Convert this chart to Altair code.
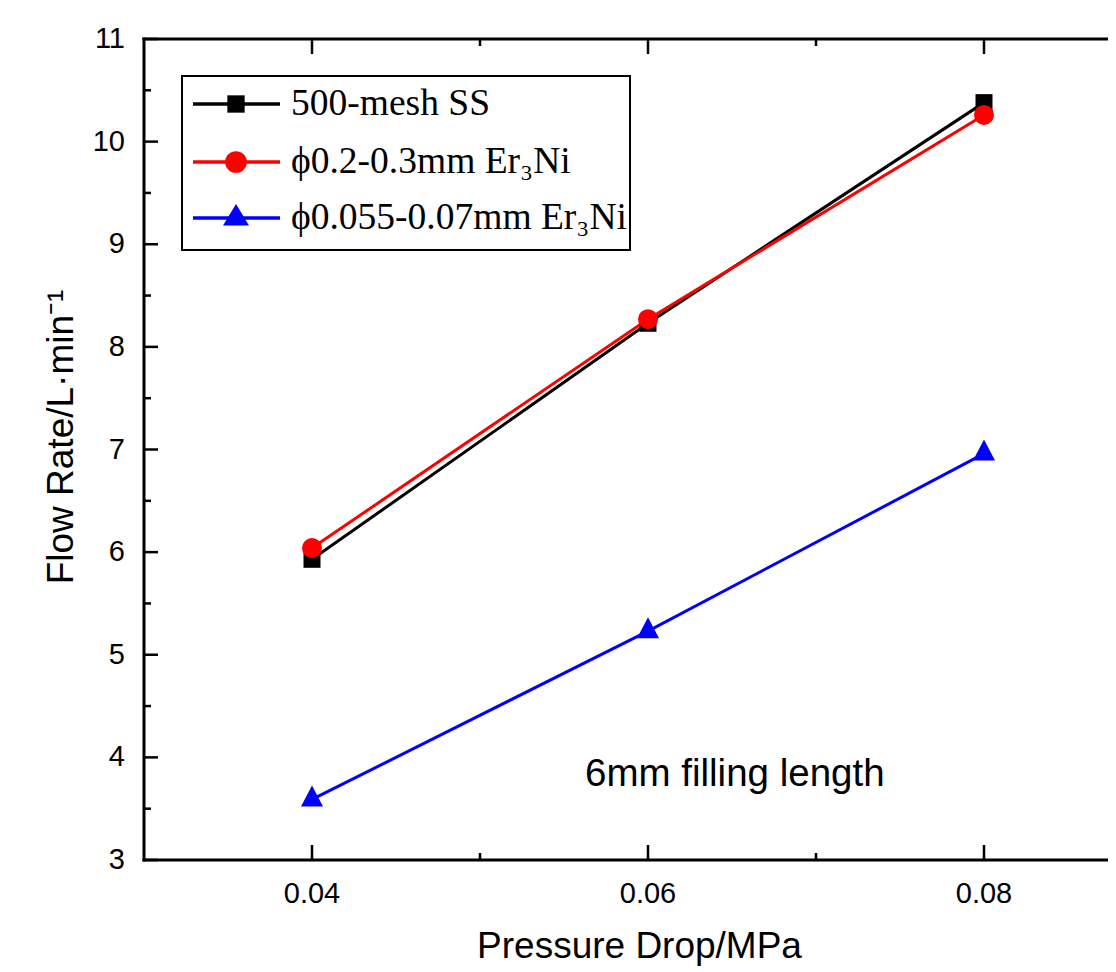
import altair as alt
import pandas as pd

# ---------------- data ----------------
pressure = [0.04, 0.06, 0.08]
series_names = ["500-mesh SS", "ϕ0.2-0.3mm Er₃Ni", "ϕ0.055-0.07mm Er₃Ni"]
flow_ss = [5.93, 8.23, 10.38]
flow_er3ni_coarse = [6.04, 8.27, 10.26]
flow_er3ni_fine = [3.59, 5.23, 6.96]

x_major_ticks = [0.04, 0.06, 0.08]
x_tick_labels = ["0.04", "0.06", "0.08"]
x_minor_ticks = [0.05, 0.07]
y_major_ticks = [3, 4, 5, 6, 7, 8, 9, 10, 11]
y_tick_labels = ["3", "4", "5", "6", "7", "8", "9", "10", "11"]
y_minor_ticks = [3.5, 4.5, 5.5, 6.5, 7.5, 8.5, 9.5, 10.5]

x_title = "Pressure Drop/MPa"
y_title = "Flow Rate/L·min⁻¹"

note_text = ["6mm filling length"]
note_x = [0.05625]
note_y = [3.72]

# ---------------- styles / layout ----------------
W, H = 963, 821
x_domain = [0.03, 0.0873214]
y_domain = [3, 11]
series_colors = ["#000000", "#ff0000", "#0000ff"]
marker_shapes = ["square", "circle", "M0,-0.7L0.55,0.35L-0.55,0.35Z"]
marker_sizes = [289, 400, 1600]
axis_font = "Liberation Sans"

# legend (pixel layout inside the plot area)
legend_box = (38, 37, 486, 211)
legend_row_y = [65, 123, 179]
legend_line_x = (49, 136)
legend_marker_x = 92
legend_label_x = 147
legend_marker_shapes = ["square", "circle", "M0,-0.322L0.299,0.175L-0.299,0.175Z"]
legend_marker_sizes = [300, 470, 7569]

xs = alt.Scale(domain=x_domain, nice=False, zero=False)
ys = alt.Scale(domain=y_domain, nice=False, zero=False)
color_scale = alt.Scale(domain=series_names, range=series_colors)

rows = []
for name, vals in zip(series_names, [flow_ss, flow_er3ni_coarse, flow_er3ni_fine]):
    for p, v in zip(pressure, vals):
        rows.append({"series": name, "pressure": p, "flow": v})
df = pd.DataFrame(rows)
one = pd.DataFrame({"k": [0]})

# ---------------- axes (frame, ticks, labels, titles) ----------------
frame_layers = [
    alt.Chart(one).mark_rule(color="black", strokeWidth=3).encode(
        x=alt.value(0), y=alt.value(-1.5), y2=alt.value(H + 1.5)),
    alt.Chart(one).mark_rule(color="black", strokeWidth=3).encode(
        x=alt.value(-1.5), x2=alt.value(W + 1), y=alt.value(H)),
    alt.Chart(one).mark_rule(color="black", strokeWidth=3).encode(
        x=alt.value(-1.5), x2=alt.value(W + 1), y=alt.value(0)),
]


def xtick_layer(vals, y0, y1):
    return alt.Chart(pd.DataFrame({"v": vals})).mark_rule(color="black", strokeWidth=2.5).encode(
        x=alt.X("v:Q", scale=xs, axis=None), y=alt.value(y0), y2=alt.value(y1))


def ytick_layer(vals, length):
    return alt.Chart(pd.DataFrame({"v": vals})).mark_rule(color="black", strokeWidth=2.5).encode(
        y=alt.Y("v:Q", scale=ys, axis=None), x=alt.value(0), x2=alt.value(length))


tick_layers = [
    xtick_layer(x_major_ticks, H, H - 15),
    xtick_layer(x_minor_ticks, H, H - 7),
    xtick_layer(x_major_ticks, 0, 15),
    xtick_layer(x_minor_ticks, 0, 7),
    ytick_layer(y_major_ticks, 14),
    ytick_layer(y_minor_ticks, 7),
]

label_layers = [
    alt.Chart(pd.DataFrame({"v": x_major_ticks, "t": x_tick_labels})).mark_text(
        font=axis_font, fontSize=29, align="center", baseline="top", color="black"
    ).encode(x=alt.X("v:Q", scale=xs, axis=None), y=alt.value(H + 20), text="t:N"),
    alt.Chart(pd.DataFrame({"v": y_major_ticks, "t": y_tick_labels})).mark_text(
        font=axis_font, fontSize=29, align="right", baseline="middle", color="black"
    ).encode(y=alt.Y("v:Q", scale=ys, axis=None), x=alt.value(-19), text="t:N"),
    alt.Chart(pd.DataFrame({"t": [x_title]})).mark_text(
        font=axis_font, fontSize=37, align="center", baseline="alphabetic", color="black"
    ).encode(x=alt.value(495.5), y=alt.value(H + 97.5), text="t:N"),
    alt.Chart(pd.DataFrame({"t": [y_title]})).mark_text(
        font=axis_font, fontSize=37, align="center", baseline="alphabetic", color="black",
        angle=270
    ).encode(x=alt.value(-71), y=alt.value(398), text="t:N"),
]

# ---------------- data layers ----------------
lines = alt.Chart(df).mark_line(strokeWidth=3).encode(
    x=alt.X("pressure:Q", scale=xs, axis=None),
    y=alt.Y("flow:Q", scale=ys, axis=None),
    color=alt.Color("series:N", scale=color_scale, legend=None),
)

marker_layers = []
for vals, col, shp, sz in zip([flow_ss, flow_er3ni_coarse, flow_er3ni_fine],
                              series_colors, marker_shapes, marker_sizes):
    d = pd.DataFrame({"pressure": pressure, "flow": vals})
    marker_layers.append(
        alt.Chart(d).mark_point(filled=True, shape=shp, size=sz, color=col,
                                opacity=1, strokeWidth=0).encode(
            x=alt.X("pressure:Q", scale=xs, axis=None),
            y=alt.Y("flow:Q", scale=ys, axis=None),
        )
    )

note = alt.Chart(pd.DataFrame({"x": note_x, "y": note_y, "t": note_text})).mark_text(
    font=axis_font, fontSize=38.5, align="left", baseline="alphabetic", color="black"
).encode(
    x=alt.X("x:Q", scale=xs, axis=None),
    y=alt.Y("y:Q", scale=ys, axis=None),
    text="t:N",
)

# ---------------- legend ----------------
legend_layers = [
    alt.Chart(one).mark_rect(fill="white", stroke="black", strokeWidth=2).encode(
        x=alt.value(legend_box[0]), x2=alt.value(legend_box[2]),
        y=alt.value(legend_box[1]), y2=alt.value(legend_box[3]))
]
for name, col, shp, sz, ry in zip(series_names, series_colors, legend_marker_shapes,
                                  legend_marker_sizes, legend_row_y):
    ld = pd.DataFrame({"label": [name]})
    legend_layers.append(
        alt.Chart(ld).mark_rule(color=col, strokeWidth=3.5).encode(
            x=alt.value(legend_line_x[0]), x2=alt.value(legend_line_x[1]), y=alt.value(ry)))
    legend_layers.append(
        alt.Chart(ld).mark_point(filled=True, shape=shp, size=sz, color=col, opacity=1,
                                 strokeWidth=0).encode(
            x=alt.value(legend_marker_x), y=alt.value(ry)))
    legend_layers.append(
        alt.Chart(ld).mark_text(font="Liberation Serif", fontSize=37.5, align="left",
                                baseline="middle", color="black").encode(
            x=alt.value(legend_label_x), y=alt.value(ry), text="label:N"))

chart = alt.layer(
    *tick_layers, lines, *marker_layers, note, *legend_layers, *frame_layers, *label_layers
).properties(
    width=W, height=H,
    autosize=alt.AutoSizeParams(type="none"),
    padding={"left": 136, "top": 31, "right": 1, "bottom": 110},
    background="white",
).configure_view(stroke="transparent")

chart.save("out.html", embed_options={"renderer": "svg", "actions": False})
